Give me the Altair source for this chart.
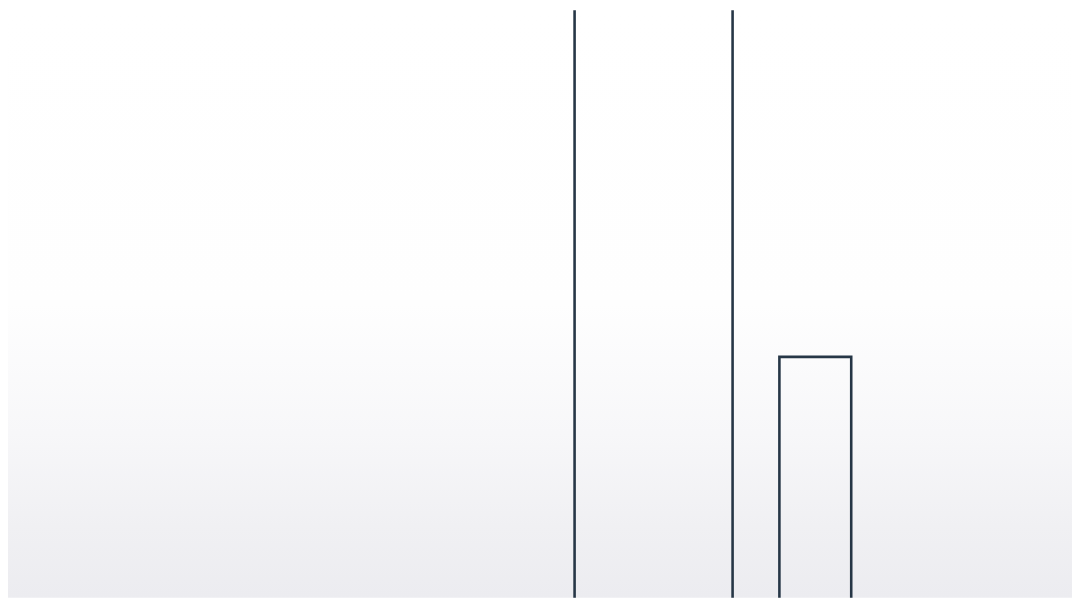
import altair as alt
import pandas as pd

# Data (arbitrary units)
categories = ["A", "B"]
starts = [53.25, 72.5]
ends = [68.1, 79.25]
values = [130.0, 41.0]
bases = [-3.0, -3.0]

W, H = 1072, 592

df = pd.DataFrame({"cat": categories, "start": starts, "end": ends,
                   "value": values, "base": bases})

bg = alt.Chart(pd.DataFrame({"k": [0]})).mark_rect(
    color=alt.Gradient(
        gradient="linear",
        stops=[
            alt.GradientStop(color="#ffffff", offset=0),
            alt.GradientStop(color="#fefefe", offset=0.5),
            alt.GradientStop(color="#f7f7f9", offset=0.72),
            alt.GradientStop(color="#f0f0f3", offset=0.88),
            alt.GradientStop(color="#ececf0", offset=1),
        ],
        x1=0, x2=0, y1=0, y2=1,
    )
).encode(x=alt.value(0), x2=alt.value(W), y=alt.value(0), y2=alt.value(H))

bars = alt.Chart(df).mark_bar(
    filled=False, stroke="#263646", strokeWidth=2.6, clip=True
).encode(
    x=alt.X("start:Q", scale=alt.Scale(domain=[0, 100], nice=False, zero=False), axis=None),
    x2="end:Q",
    y=alt.Y("value:Q", scale=alt.Scale(domain=[0, 100], nice=False), axis=None),
    y2="base:Q",
)

chart = alt.layer(bg, bars).properties(
    width=W, height=H,
    autosize=alt.AutoSizeParams(type="fit", contains="padding"),
    padding=0,
    background="#ffffff",
).configure_view(stroke=None)

chart.save("out.html", embed_options={"renderer": "svg", "actions": False})
